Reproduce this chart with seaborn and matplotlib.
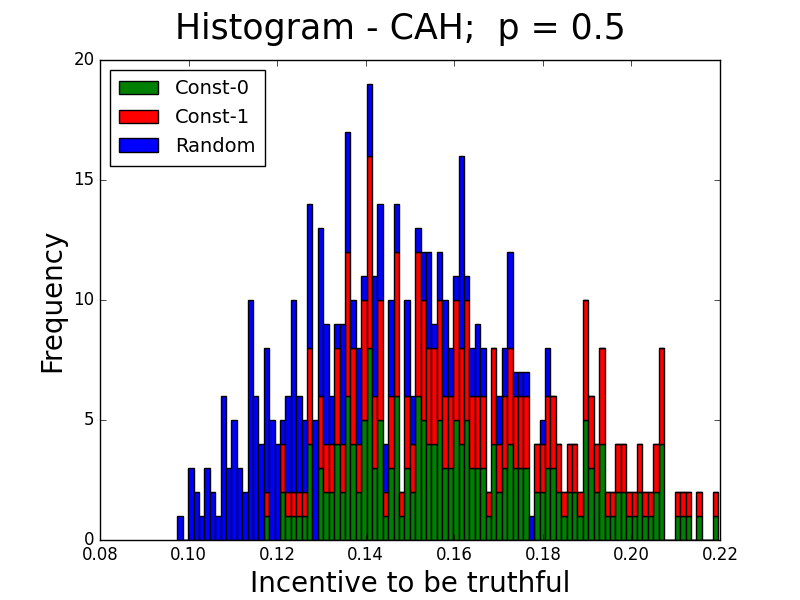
import matplotlib
matplotlib.use("Agg")
import matplotlib.pyplot as plt
from matplotlib.patches import Patch
import seaborn as sns
import numpy as np
import pandas as pd

# counts per bin (100 bins)
const0 = [0, 0, 0, 0, 0, 0, 0, 0, 0, 0,
          0, 0, 0, 0, 0, 0, 1, 0, 0, 2,
          1, 1, 1, 1, 4, 0, 3, 2, 2, 4,
          2, 6, 4, 2, 5, 8, 3, 5, 1, 3,
          6, 1, 3, 2, 6, 5, 4, 4, 5, 3,
          3, 5, 4, 5, 3, 3, 3, 1, 4, 2,
          3, 4, 3, 3, 3, 0, 2, 2, 3, 3,
          2, 1, 2, 2, 1, 5, 3, 2, 4, 1,
          1, 2, 2, 1, 1, 2, 1, 1, 2, 4,
          0, 0, 1, 1, 1, 0, 1, 0, 0, 1]
const1 = [0, 0, 0, 0, 0, 0, 0, 0, 0, 0,
          0, 0, 0, 0, 0, 0, 1, 0, 0, 2,
          1, 1, 1, 1, 4, 0, 3, 2, 2, 4,
          2, 6, 4, 2, 5, 8, 3, 5, 1, 3,
          6, 1, 3, 2, 6, 5, 4, 4, 5, 3,
          3, 5, 4, 5, 3, 3, 3, 1, 4, 2,
          3, 4, 3, 3, 3, 0, 2, 2, 3, 3,
          2, 1, 2, 2, 1, 5, 3, 2, 4, 1,
          1, 2, 2, 1, 1, 2, 1, 1, 2, 4,
          0, 0, 1, 1, 1, 0, 1, 0, 0, 1]
random_ = [1, 0, 3, 2, 1, 3, 2, 1, 6, 3,
           5, 3, 2, 10, 6, 4, 6, 5, 4, 1,
           4, 8, 4, 3, 6, 5, 7, 5, 2, 1,
           5, 5, 2, 4, 1, 3, 5, 4, 2, 4,
           2, 0, 4, 2, 1, 2, 4, 1, 2, 4,
           2, 1, 8, 1, 2, 3, 2, 0, 0, 2,
           2, 4, 1, 1, 1, 1, 0, 1, 2, 0,
           0, 0, 0, 0, 0, 0, 0, 0, 0, 0,
           0, 0, 0, 0, 0, 0, 0, 0, 0, 0,
           0, 0, 0, 0, 0, 0, 0, 0, 0, 0]
series_names = ["Const-0", "Const-1", "Random"]
series_colors = ["g", "r", "b"]

x_min, x_max = 0.09745, 0.21957
n_bins = len(const0)
edges = np.linspace(x_min, x_max, n_bins + 1)
centers = (edges[:-1] + edges[1:]) / 2

frames = []
for name, counts in zip(series_names, [const0, const1, random_]):
    frames.append(pd.DataFrame({"value": centers, "count": counts, "series": name}))
df = pd.concat(frames, ignore_index=True)

plt.style.use("classic")
plt.rcParams["figure.facecolor"] = "white"
plt.rcParams["savefig.facecolor"] = "white"

fig, ax = plt.subplots(figsize=(8, 6), dpi=100)

# seaborn stacks the last hue level at the bottom
sns.histplot(data=df, x="value", weights="count", hue="series",
             hue_order=series_names[::-1], palette=dict(zip(series_names, series_colors)),
             bins=n_bins, binrange=(x_min, x_max), multiple="stack", alpha=1,
             edgecolor="black", linewidth=1, legend=False, ax=ax)

handles = [Patch(facecolor=c, edgecolor="black") for c in series_colors]
ax.legend(handles, series_names, loc="upper left", fontsize=14,
          handletextpad=0.85, borderpad=0.5)

ax.set_xlim(0.08, 0.22)
ax.set_ylim(0, 20)
ax.set_xticks(np.arange(0.08, 0.2201, 0.02))
ax.set_yticks(range(0, 21, 5))
ax.set_xlabel("Incentive to be truthful", fontsize=20)
ax.set_ylabel("Frequency", fontsize=20)
fig.suptitle("Histogram - CAH;  p = 0.5", fontsize=25)

plt.savefig("out.png", dpi=100)
